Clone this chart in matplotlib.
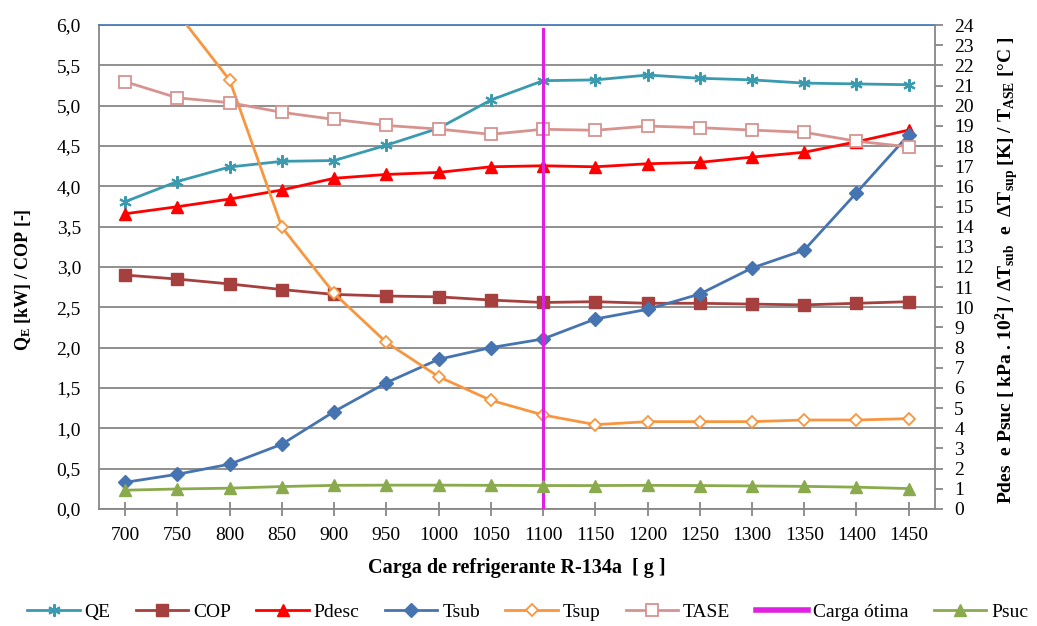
import matplotlib
matplotlib.use('Agg')
import matplotlib.pyplot as plt
from matplotlib.ticker import FuncFormatter, MultipleLocator
from matplotlib.lines import Line2D
import numpy as np

plt.rcParams['font.family'] = ['Liberation Serif', 'DejaVu Serif']
plt.rcParams['mathtext.fontset'] = 'custom'
plt.rcParams['mathtext.rm'] = 'Liberation Serif'
plt.rcParams['mathtext.bf'] = 'Liberation Serif:bold'
plt.rcParams['mathtext.it'] = 'Liberation Serif:italic'

# carga de refrigerante [g]
cargas = [700, 750, 800, 850, 900, 950, 1000, 1050, 1100, 1150, 1200, 1250, 1300, 1350, 1400, 1450]

# eixo esquerdo
qe = [3.81, 4.06, 4.24, 4.31, 4.32, 4.51, 4.72, 5.07, 5.31, 5.32, 5.38, 5.34, 5.32, 5.28, 5.27, 5.26]
cop = [2.90, 2.85, 2.79, 2.72, 2.66, 2.64, 2.63, 2.59, 2.56, 2.57, 2.55, 2.55, 2.54, 2.53, 2.55, 2.57]

# eixo direito
pdesc = [14.64, 14.99, 15.37, 15.82, 16.40, 16.59, 16.69, 16.97, 17.02, 16.97, 17.12, 17.19, 17.45, 17.69, 18.21, 18.79]
tsub = [1.32, 1.72, 2.22, 3.21, 4.83, 6.26, 7.42, 8.00, 8.43, 9.42, 9.90, 10.66, 11.95, 12.84, 15.68, 18.56]
tsup = [28.0, 24.6, 21.27, 13.98, 10.69, 8.26, 6.56, 5.39, 4.66, 4.18, 4.33, 4.33, 4.33, 4.41, 4.41, 4.48]
tase = [21.19, 20.39, 20.15, 19.67, 19.32, 19.02, 18.84, 18.58, 18.83, 18.78, 18.99, 18.91, 18.79, 18.68, 18.24, 17.96]
psuc = [0.93, 0.99, 1.03, 1.11, 1.17, 1.18, 1.18, 1.17, 1.16, 1.16, 1.17, 1.16, 1.14, 1.12, 1.08, 1.01]
carga_otima = 1100
carga_otima_y = [0, 23.8]

x = np.arange(len(cargas))
xo = cargas.index(carga_otima)

fig = plt.figure(figsize=(10.37, 6.26), dpi=100)
ax = fig.add_axes([0.0955, 0.187, 0.806, 0.773])
ax2 = ax.twinx()

grid_col = '#878787'
ax.set_xlim(-0.5, len(cargas) - 0.5)
ax.set_ylim(0, 6)
ax2.set_ylim(0, 24)
ax.yaxis.set_major_locator(MultipleLocator(0.5))
ax2.yaxis.set_major_locator(MultipleLocator(1))
ax.yaxis.set_major_formatter(FuncFormatter(lambda v, p: f'{v:.1f}'.replace('.', ',')))
ax.set_xticks(x)
ax.set_xticklabels([str(c) for c in cargas])
ax.grid(axis='y', color=grid_col, lw=1.3)
ax.set_axisbelow(True)

for sp in ['left', 'bottom']:
    ax.spines[sp].set_color(grid_col)
    ax.spines[sp].set_linewidth(1.3)
ax.spines['top'].set_color('#4A7EBB')
ax.spines['top'].set_linewidth(1.3)
ax.spines['right'].set_visible(False)
for sp in ['left', 'bottom', 'top']:
    ax2.spines[sp].set_visible(False)
ax2.spines['right'].set_color(grid_col)
ax2.spines['right'].set_linewidth(1.3)

ax.tick_params(axis='y', length=0, labelsize=14, pad=13)
ax.tick_params(axis='x', direction='inout', length=10, width=1.3, color=grid_col, labelsize=14, pad=8)
ax2.tick_params(axis='y', direction='out', length=6, width=1.3, color=grid_col, labelsize=14, pad=8)

h_qe, = ax.plot(x, qe, color='#3A9AB0', lw=2, marker=(6, 2, 0), ms=9, mew=1.5, label='QE')
h_cop, = ax.plot(x, cop, color='#A5403E', lw=2, marker='s', ms=8.5, label='COP')

h_pd, = ax2.plot(x, pdesc, color='#FF0000', lw=2, marker='^', ms=8.5, label='Pdesc')
h_sub, = ax2.plot(x, tsub, color='#4674B0', lw=2, marker='D', ms=7, label='Tsub')
h_sup, = ax2.plot(x, tsup, color='#F7963F', lw=2, marker='D', ms=6.5, mfc='white', mew=1.3, label='Tsup')
h_ase, = ax2.plot(x, tase, color='#D69390', lw=2, marker='s', ms=9, mfc='white', mew=1.3, label='TASE')
h_co, = ax2.plot([xo, xo], carga_otima_y, color='#E020E0', lw=2.2, label='Carga ótima')
h_ps, = ax2.plot(x, psuc, color='#8AAA4E', lw=2, marker='^', ms=8.5, label='Psuc')

ax.set_xlabel('Carga de refrigerante R-134a  [ g ]', fontsize=14.5, fontweight='bold', labelpad=10)
ax.set_ylabel(r'Q$_\mathbf{E}$ [kW] / COP [-]', fontsize=13, fontweight='bold', va='center')
ax.yaxis.set_label_coords(-0.0915, 0.473)
ax2.set_ylabel(r'Pdes  e Psuc [ kPa . 10$^\mathbf{2}$] / ΔT$_\mathbf{sub}$  e  ΔT$_\mathbf{sup}$ [K] / T$_\mathbf{ASE}$ [°C ]',
               fontsize=14, fontweight='bold', va='center')
ax2.yaxis.set_label_coords(1.0873, 0.494)

leg_handles = [h_qe, h_cop, h_pd, h_sub, h_sup, h_ase,
               Line2D([], [], color='#E020E0', lw=4), h_ps]
leg_labels = ['QE', 'COP', 'Pdesc', 'Tsub', 'Tsup', 'TASE', 'Carga ótima', 'Psuc']
fig.legend(leg_handles, leg_labels, loc='center', bbox_to_anchor=(0.509, 0.022), ncol=8,
           frameon=False, fontsize=14, handlelength=2.7, handletextpad=0.25, columnspacing=1.3)

fig.savefig('out.png', dpi=100)
